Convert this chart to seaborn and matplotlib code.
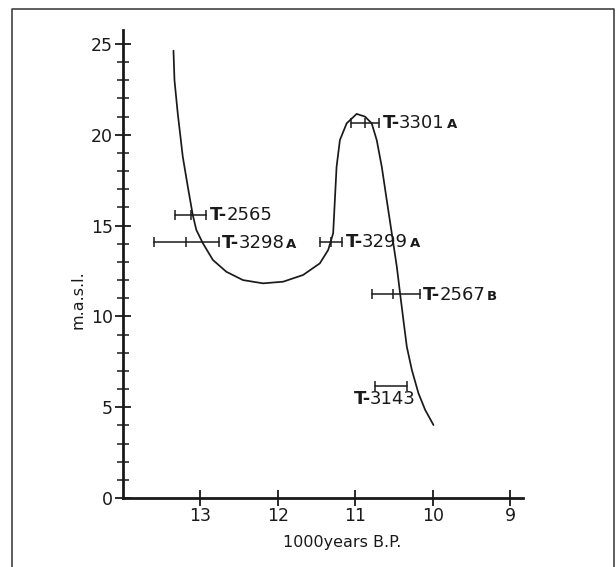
import numpy as np
import pandas as pd
import matplotlib
matplotlib.use("Agg")
import matplotlib.pyplot as plt
import seaborn as sns
from matplotlib.lines import Line2D
from matplotlib.transforms import offset_copy

# ---- data ----
curve_x = [13.345, 13.332, 13.29, 13.225, 13.16, 13.096, 13.05, 12.966, 12.837,
           12.664, 12.449, 12.19, 11.931, 11.673, 11.457, 11.349, 11.285, 11.263,
           11.241, 11.198, 11.111, 10.982, 10.874, 10.788, 10.723, 10.658, 10.594,
           10.529, 10.464, 10.422, 10.379, 10.335, 10.27, 10.185, 10.098, 9.991]
curve_y = [24.63, 23.0, 21.18, 18.79, 17.14, 15.58, 14.76, 14.03, 13.11,
           12.46, 12.0, 11.82, 11.91, 12.28, 12.92, 13.66, 14.58, 16.41,
           18.24, 19.71, 20.63, 21.15, 21.0, 20.63, 19.71, 18.24, 16.41,
           14.58, 12.74, 11.27, 9.80, 8.33, 7.05, 5.77, 4.85, 4.02]

sample_ids = ["2565", "3298", "3299", "3301", "2567", "3143"]
sample_suffix = ["", "A", "A", "A", "B", ""]
age_center = [13.12, 13.18, 11.31, 10.87, 10.51, 10.54]
age_old = [13.33, 13.59, 11.46, 11.05, 10.79, 10.75]
age_young = [12.92, 12.76, 11.17, 10.69, 10.17, 10.33]
elevation = [15.6, 14.08, 14.1, 20.65, 11.22, 6.18]
has_center_tick = [True, True, True, True, True, False]

x_ticks = [13, 12, 11, 10, 9]
y_ticks = [0, 5, 10, 15, 20, 25]

curve_df = pd.DataFrame({"age": curve_x, "masl": curve_y})

# ---- figure ----
sns.set_theme(style="white")
plt.rcParams["font.family"] = ["DejaVu Sans"]
fig = plt.figure(figsize=(6.16, 5.67), dpi=100)
W, H = 616, 567

left_px, right_px = 122.7, 522.7
bottom_px, top_px = 498, 30
ax = fig.add_axes([left_px / W, (H - bottom_px) / H,
                   (right_px - left_px) / W, (bottom_px - top_px) / H])
ax.set_xlim(14.0, 8.84)
ax.set_ylim(0, 25.77)

sns.lineplot(data=curve_df, x="age", y="masl", sort=False, estimator=None,
             color="#1a1a1a", linewidth=1.25, ax=ax)
for ln in ax.get_lines():
    ln.set_solid_joinstyle("round")

# error bars
for i in range(len(sample_ids)):
    xs = [age_old[i], age_young[i]]
    ax.plot(xs, [elevation[i]] * 2, color="#1a1a1a", lw=1.1)
    ax.plot(xs, [elevation[i]] * 2, ls="none", marker="|", ms=7, mew=1.1,
            color="#1a1a1a")
    if has_center_tick[i]:
        ax.plot([age_center[i]], [elevation[i]], ls="none", marker="|", ms=7,
                mew=1.1, color="#1a1a1a")

# labels
fig.canvas.draw()
renderer = fig.canvas.get_renderer()
label_fs = 13
base_drop = -0.3 * label_fs
for i in range(len(sample_ids)):
    if i == 5:
        x0, y0 = age_center[i], elevation[i]
        base = offset_copy(ax.transData, fig=fig, x=-27, y=-9 + base_drop,
                           units="points")
    else:
        x0, y0 = age_young[i], elevation[i]
        base = offset_copy(ax.transData, fig=fig, x=2.5, y=base_drop,
                           units="points")
    t1 = ax.text(x0, y0, "T-", transform=base, fontsize=label_fs,
                 fontweight="bold", va="baseline", ha="left", color="#1a1a1a")
    ex = t1.get_window_extent(renderer)
    tr2 = offset_copy(base, fig=fig, x=ex.width - 1, y=0, units="dots")
    t2 = ax.text(x0, y0, sample_ids[i], transform=tr2, fontsize=label_fs,
                 va="baseline", ha="left", color="#1a1a1a")
    if sample_suffix[i]:
        ex2 = t2.get_window_extent(renderer)
        tr3 = offset_copy(tr2, fig=fig, x=ex2.width + 2, y=0, units="dots")
        ax.text(x0, y0, sample_suffix[i], transform=tr3, fontsize=9.5,
                fontweight="bold", va="baseline", ha="left", color="#1a1a1a")

# axes styling
for s in ["top", "right"]:
    ax.spines[s].set_visible(False)
for s in ["left", "bottom"]:
    ax.spines[s].set_linewidth(2.0)
    ax.spines[s].set_color("#1a1a1a")
ax.set_xticks(x_ticks)
ax.set_xticklabels([str(v) for v in x_ticks])
ax.set_yticks(y_ticks)
ax.set_yticklabels([str(v) for v in y_ticks])
ax.set_yticks(np.arange(0, 26, 1), minor=True)
ax.tick_params(axis="x", which="major", direction="inout", length=11, width=1.3,
               labelsize=12.5, pad=1, colors="#1a1a1a", bottom=True)
ax.tick_params(axis="y", which="major", direction="inout", length=12, width=1.3,
               labelsize=12.5, pad=1, colors="#1a1a1a", left=True)
ax.tick_params(axis="y", which="minor", direction="inout", length=8, width=1.1,
               colors="#1a1a1a", left=True)
ax.set_xlabel("")
ax.set_ylabel("")
ax.grid(False)

fig.text(342 / W, 1 - 542 / H, "1000years B.P.", ha="center", va="center",
         fontsize=11.5, color="#1a1a1a")
fig.text(78 / W, 1 - 300 / H, "m.a.s.l.", ha="center", va="center",
         rotation=90, fontsize=11.5, color="#1a1a1a")

# outer frame (left, top, right)
fx0, fx1 = 12.3 / W, 614 / W
fy1 = 1 - 9 / H
fig.add_artist(Line2D([fx0, fx0, fx1, fx1], [0, fy1, fy1, 0],
                      transform=fig.transFigure, color="#333333", lw=1.1))

fig.savefig("out.png", dpi=100)
